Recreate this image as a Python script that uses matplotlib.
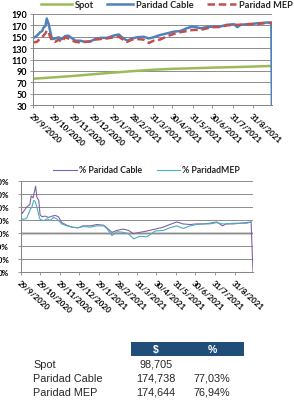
import pandas as pd
import matplotlib.pyplot as plt
from matplotlib.lines import Line2D
from matplotlib.patches import Rectangle

# --- datos ---
spot_dates = ['2020-09-29', '2020-10-29', '2020-11-29', '2020-12-29', '2021-01-29', '2021-02-28',
              '2021-03-31', '2021-04-30', '2021-05-31', '2021-06-30', '2021-07-31', '2021-08-31',
              '2021-09-29']
spot = [76.2, 78.5, 81.0, 84.0, 86.9, 89.5, 92.0, 93.6, 94.6, 95.7, 96.6, 97.6, 98.7]

par_dates = ['2020-09-29', '2020-10-05', '2020-10-10', '2020-10-13', '2020-10-15', '2020-10-18',
             '2020-10-20', '2020-10-23', '2020-10-25', '2020-10-28', '2020-11-02', '2020-11-07',
             '2020-11-12', '2020-11-17', '2020-11-22', '2020-11-28', '2020-12-03', '2020-12-10',
             '2020-12-18', '2020-12-26', '2021-01-02', '2021-01-10', '2021-01-20', '2021-01-30',
             '2021-02-07', '2021-02-12', '2021-02-20', '2021-02-27', '2021-03-07', '2021-03-17',
             '2021-03-25', '2021-04-01', '2021-04-11', '2021-04-22', '2021-05-02', '2021-05-12',
             '2021-05-22', '2021-05-31', '2021-06-12', '2021-06-22', '2021-07-02', '2021-07-12',
             '2021-07-22', '2021-08-02', '2021-08-07', '2021-08-12', '2021-08-22', '2021-09-01',
             '2021-09-11', '2021-09-21', '2021-09-28', '2021-09-29']
cable = [147, 152, 158, 160, 166, 169, 182, 172, 161, 146, 147, 149, 146, 151, 152, 147, 143, 143,
         141, 142, 146, 148, 148, 152, 154, 149, 143, 147, 149, 150, 147, 149, 153, 156, 159, 160,
         165, 168, 165, 167, 168, 168, 171, 172, 167, 171, 172, 173, 174, 175, 174.7, 0]
mep = [140, 141, 147, 150, 152, 156, 161, 158, 150, 143, 141, 145, 141, 149, 147, 143, 141, 140,
       141, 142, 145, 146, 147, 149, 150, 146, 141, 145, 146, 145, 139, 143, 145, 151, 155, 158,
       160, 162, 162, 165, 167, 167, 170, 171, 171, 171, 172, 172, 173, 174, 174.6, 174.6]

pct_cable_dates = ['2020-09-29', '2020-10-01', '2020-10-03', '2020-10-08', '2020-10-13', '2020-10-15',
                   '2020-10-18', '2020-10-20', '2020-10-22', '2020-10-24', '2020-10-27', '2020-10-29',
                   '2020-11-01', '2020-11-06', '2020-11-11', '2020-11-17', '2020-11-22', '2020-11-27',
                   '2020-12-02', '2020-12-10', '2020-12-18', '2020-12-28', '2021-01-05', '2021-01-16',
                   '2021-01-26', '2021-02-06', '2021-02-11', '2021-02-19', '2021-02-27', '2021-03-09',
                   '2021-03-17', '2021-03-25', '2021-04-04', '2021-04-15', '2021-04-28', '2021-05-11',
                   '2021-05-21', '2021-06-01', '2021-06-11', '2021-06-22', '2021-07-02', '2021-07-13',
                   '2021-07-23', '2021-08-03', '2021-08-12', '2021-08-18', '2021-08-29', '2021-09-08',
                   '2021-09-19', '2021-09-26', '2021-09-29']
pct_cable = [95, 90, 93, 100, 104, 117, 114, 123, 132, 115, 110, 88, 85, 86, 84, 86, 87, 85, 76, 72,
             69, 68, 71, 71, 73, 72, 68, 61, 64, 66, 64, 59, 61, 63, 66, 69, 73, 77, 74, 73, 74, 74,
             75, 77, 71, 74, 74, 75, 76, 77.03, 0]

pct_mep_dates = ['2020-09-29', '2020-10-03', '2020-10-08', '2020-10-14', '2020-10-16', '2020-10-19',
                 '2020-10-21', '2020-10-24', '2020-10-27', '2020-10-29', '2020-11-04', '2020-11-09',
                 '2020-11-14', '2020-11-19', '2020-11-24', '2020-12-02', '2020-12-10', '2020-12-18',
                 '2020-12-28', '2021-01-05', '2021-01-16', '2021-01-26', '2021-02-06', '2021-02-11',
                 '2021-02-19', '2021-02-27', '2021-03-09', '2021-03-17', '2021-03-25', '2021-04-04',
                 '2021-04-15', '2021-04-28', '2021-05-11', '2021-05-21', '2021-06-01', '2021-06-11',
                 '2021-06-22', '2021-07-02', '2021-07-13', '2021-07-23', '2021-08-03', '2021-08-12',
                 '2021-08-18', '2021-08-29', '2021-09-08', '2021-09-19', '2021-09-26']
pct_mep = [82, 81, 83, 97, 100, 110, 109, 100, 87, 81, 79, 82, 79, 84, 82, 74, 71, 69, 68, 70, 69,
           71, 71, 67, 56, 62, 61, 59, 51, 55, 54, 63, 64, 68, 71, 67, 71, 73, 74, 74, 76, 74, 74,
           75, 75, 75, 76.94]

tick_dates = ['2020-09-29', '2020-10-29', '2020-11-29', '2020-12-29', '2021-01-29', '2021-02-28',
              '2021-03-31', '2021-04-30', '2021-05-31', '2021-06-30', '2021-07-31', '2021-08-31']
tick_labels = ['29/9/2020', '29/10/2020', '29/11/2020', '29/12/2020', '29/1/2021', '28/2/2021',
               '31/3/2021', '30/4/2021', '31/5/2021', '30/6/2021', '31/7/2021', '31/8/2021']

table_rows = ['Spot', 'Paridad Cable', 'Paridad MEP']
table_pesos = ['98,705', '174,738', '174,644']
table_pct = ['', '77,03%', '76,94%']

GREEN = '#9BBB59'
BLUE = '#4F81BD'
RED = '#C0504D'
PURPLE = '#8064A2'
CYAN = '#4BACC6'
FONT = 'Lato'

W, H = 294, 402
fig = plt.figure(figsize=(W / 100, H / 100), dpi=100)


def px(x, y):
    return x / W, 1 - y / H


def style_axis(ax, ticks_font):
    ax.set_xlim(pd.Timestamp('2020-09-29'), pd.Timestamp('2021-09-29'))
    ax.set_xticks(pd.to_datetime(tick_dates))
    ax.set_xticklabels(tick_labels, rotation=-42, ha='left', va='top', rotation_mode='anchor',
                       fontsize=5.8, fontweight='bold', family=FONT)
    for s in ['top', 'right']:
        ax.spines[s].set_visible(False)
    for s in ['left', 'bottom']:
        ax.spines[s].set_color('#868686')
        ax.spines[s].set_linewidth(0.75)
    ax.tick_params(axis='both', length=2.5, width=0.6, color='#868686', pad=2)
    for lab in ax.get_yticklabels():
        lab.set_fontsize(ticks_font)
        lab.set_fontweight('bold')
        lab.set_family(FONT)
    ax.set_facecolor('none')


# --- grafico 1: cotizaciones ---
ax1 = fig.add_axes([33 / W, 1 - 106 / H, (272 - 33) / W, (106 - 15) / H])
ax1.set_ylim(30, 190)
ax1.set_yticks(range(30, 191, 20))
ax1.yaxis.grid(True, color='#8c8c8c', linewidth=0.7)
ax1.set_axisbelow(True)
ax1.plot(pd.to_datetime(spot_dates), spot, color=GREEN, linewidth=1.8)
ax1.plot(pd.to_datetime(par_dates), cable, color=BLUE, linewidth=1.8)
ax1.plot(pd.to_datetime(par_dates), mep, color=RED, linewidth=1.8, dashes=(3, 1.5))
style_axis(ax1, 6.5)

# leyenda 1
for (x0, x1), col, dash, label in [((41, 72), GREEN, None, 'Spot'),
                                   ((107, 133), BLUE, None, 'Paridad Cable'),
                                   ((207, 236), RED, (3, 1.5), 'Paridad MEP')]:
    xa, ya = px(x0, 5)
    xb, _ = px(x1, 5)
    ln = Line2D([xa, xb], [ya, ya], transform=fig.transFigure, color=col, linewidth=1.8)
    if dash:
        ln.set_dashes(dash)
    fig.add_artist(ln)
    fig.text(xb + 3 / W, ya, label, fontsize=6.7, fontweight='bold', family=FONT,
             va='center', ha='left', color='#262626')

# --- grafico 2: porcentajes ---
ax2 = fig.add_axes([21 / W, 1 - 273 / H, (253 - 21) / W, (273 - 182) / H])
ax2.set_ylim(0, 140)
ax2.set_yticks(range(0, 141, 20))
ax2.set_yticklabels([f'{v}%' for v in range(0, 141, 20)])
ax2.yaxis.grid(True, color='#8c8c8c', linewidth=0.7)
ax2.axhline(60, color='#bfbfbf', linewidth=1.8, zorder=0.5)
ax2.set_axisbelow(True)
ax2.plot(pd.to_datetime(pct_cable_dates), pct_cable, color=PURPLE, linewidth=0.8)
ax2.plot(pd.to_datetime(pct_mep_dates), pct_mep, color=CYAN, linewidth=0.8)
style_axis(ax2, 5.8)
ax2.tick_params(axis='y', pad=6)

# leyenda 2
for (x0, x1), col, label in [((53, 77), PURPLE, '% Paridad Cable'),
                             ((157, 180), CYAN, '% ParidadMEP')]:
    xa, ya = px(x0, 171)
    xb, _ = px(x1, 171)
    fig.add_artist(Line2D([xa, xb], [ya, ya], transform=fig.transFigure, color=col, linewidth=0.8))
    fig.text(xb + 2 / W, ya, label, fontsize=6.3, fontweight='bold', family=FONT,
             va='center', ha='left', color='#262626')

# --- tabla ---
hx, hy = px(131, 357)
fig.add_artist(Rectangle((hx, hy), (244 - 131) / W, 14 / H, transform=fig.transFigure,
                         facecolor='#1F4E79', edgecolor='none'))
for xc, txt in [(156, '$'), (212, '%')]:
    x, y = px(xc, 350)
    fig.text(x, y, txt, color='white', fontsize=7.5, fontweight='bold',
             family='Liberation Sans', ha='center', va='center')
for i, name in enumerate(table_rows):
    yy = 365 + i * 14
    x, y = px(33, yy)
    fig.text(x, y, name, fontsize=7.8, family='Liberation Sans', ha='left', va='center', color='#262626')
    x, y = px(156, yy)
    fig.text(x, y, table_pesos[i], fontsize=7.8, family='Liberation Sans', ha='center', va='center', color='#262626')
    x, y = px(212, yy)
    fig.text(x, y, table_pct[i], fontsize=7.8, family='Liberation Sans', ha='center', va='center', color='#262626')

fig.savefig('out.png', dpi=100, facecolor='white')
